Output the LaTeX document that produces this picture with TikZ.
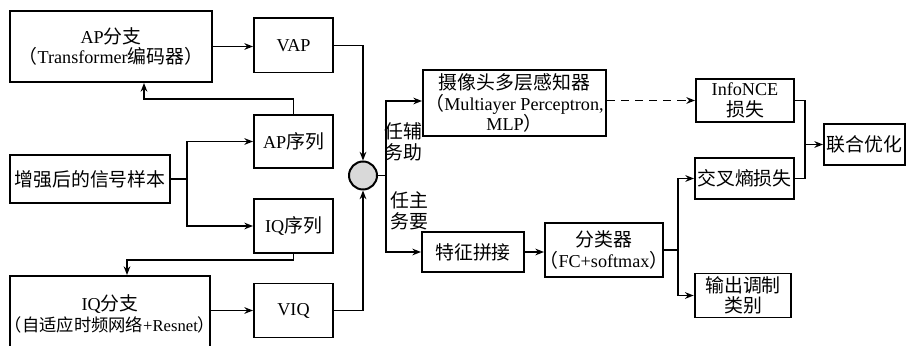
\documentclass[tikz,border=0pt]{standalone}
\usepackage{fontspec}
\setmainfont{Liberation Serif}
\newfontfamily\zhfont[Scale=1.04]{Noto Sans CJK SC}
\newcommand{\zh}[1]{{\zhfont #1}}
\usetikzlibrary{arrows.meta, positioning, calc}

\begin{document}
\begin{tikzpicture}[
    x=0.03cm, y=-0.03cm,
    font=\fontsize{15.5}{17.5}\selectfont,
    stepbox/.style={rectangle, draw, line width=1.7pt, align=center, inner sep=1pt},
    smallbox/.style={stepbox, minimum width=2.37cm, minimum height=1.62cm},
    hub/.style={circle, draw, line width=1.7pt, fill=gray!30, minimum size=0.84cm, inner sep=0pt},
    arr/.style={-{Stealth[length=2.6mm,width=2mm]}, line width=1.3pt},
    tasklabel/.style={align=center, font=\fontsize{15.5}{18}\selectfont, inner sep=0pt}
]
\useasboundingbox (0,0) rectangle (907,346);

% input and the two branches
\node[stepbox, minimum width=6.06cm, minimum height=2.13cm] (apb) at (111,46.5) {AP\zh{分支}\\\zh{（}Transformer\zh{编码器）}};
\node[smallbox] (vap) at (293.5,45.5) {VAP};
\node[smallbox, minimum height=1.59cm] (apseq) at (293.5,141.5) {AP\zh{序列}};
\node[stepbox, minimum width=4.8cm, minimum height=1.44cm] (sample) at (90,179) {\zh{增强后的信号样本}};
\node[smallbox] (iqseq) at (293.5,226) {IQ\zh{序列}};
\node[stepbox, minimum width=6cm, minimum height=2.28cm] (iqb) at (110,314) {IQ\zh{分支}\\\makebox[5.4cm]{\fontsize{14.2}{17.5}\selectfont\hspace{-0.45em}\zh{（自适应时频网络}+Resnet\zh{）}\hspace{-0.45em}}};
\node[smallbox] (viq) at (293.5,310.5) {VIQ};
\node[hub] (mix) at (363,175.5) {};

% task heads
\node[stepbox, minimum width=5.49cm, minimum height=1.98cm] (mlp) at (514.5,103) {\zh{摄像头多层感知器}\\\zh{（}Multiayer Perceptron,\\MLP\zh{）}};
\node[stepbox, minimum width=3.06cm, minimum height=1.2cm] (concat) at (473,252) {\zh{特征拼接}};
\node[stepbox, minimum width=3.54cm, minimum height=1.62cm] (cls) at (604,250) {\zh{分类器}\\\makebox[3.2cm]{\hspace{-0.3em}\zh{（}FC+softmax\zh{）}\hspace{-0.3em}}};
\node[tasklabel] (aux) at (403,142) {\zh{任辅}\\\zh{务助}};
\node[tasklabel] (main) at (409,211) {\zh{任主}\\\zh{务要}};

% losses and outputs
\node[stepbox, minimum width=2.94cm, minimum height=1.29cm] (infonce) at (745,100.5) {InfoNCE\\\zh{损失}};
\node[stepbox, minimum width=2.97cm, minimum height=1.23cm] (ce) at (744.5,178.5) {\zh{交叉熵损失}};
\node[stepbox, minimum width=2.9cm, minimum height=1.32cm] (out) at (743,295.5) {\zh{输出调制}\\\zh{类别}};
\node[stepbox, minimum width=2.43cm, minimum height=1.23cm] (joint) at (864.5,144.5) {\zh{联合优化}};

% connectors
\draw[arr] (apb.east) -- (apb.east -| vap.west);
\draw[arr] (vap.east) -| (mix.north);
\draw[arr] (apseq.north) -- ++(0,-15) -| ([xshift=0.99cm]apb.south);
\draw[arr] (sample.east) -- ++(16,0) coordinate (fork) |- (apseq.west);
\draw[arr] (fork) |- (iqseq.west);
\draw[arr] (iqseq.south) -- ++(0,6) -| ([xshift=0.51cm]iqb.north);
\draw[arr] (viq.west -| iqb.east) -- (viq.west);
\draw[arr] (viq.east) -| (mix.south);
\draw[arr] (mix.east) -- ++(8,0) coordinate (split) |- ([yshift=0.06cm]mlp.west);
\draw[arr] (split) |- (concat.west);
\draw[arr, dash pattern=on 7pt off 5pt] (infonce.west -| mlp.east) -- (infonce.west);
\draw[arr] (concat.east) -- (concat.east -| cls.west);
\draw[arr] (cls.east) -- ++(14,0) coordinate (split2) |- (ce.west);
\draw[arr] (split2) |- (out.west);
\draw[line width=1.3pt] (infonce.east) -- ++(10,0) coordinate (merge) |- (ce.east);
\draw[arr] (merge |- joint.west) -- (joint.west);

\end{tikzpicture}
\end{document}
